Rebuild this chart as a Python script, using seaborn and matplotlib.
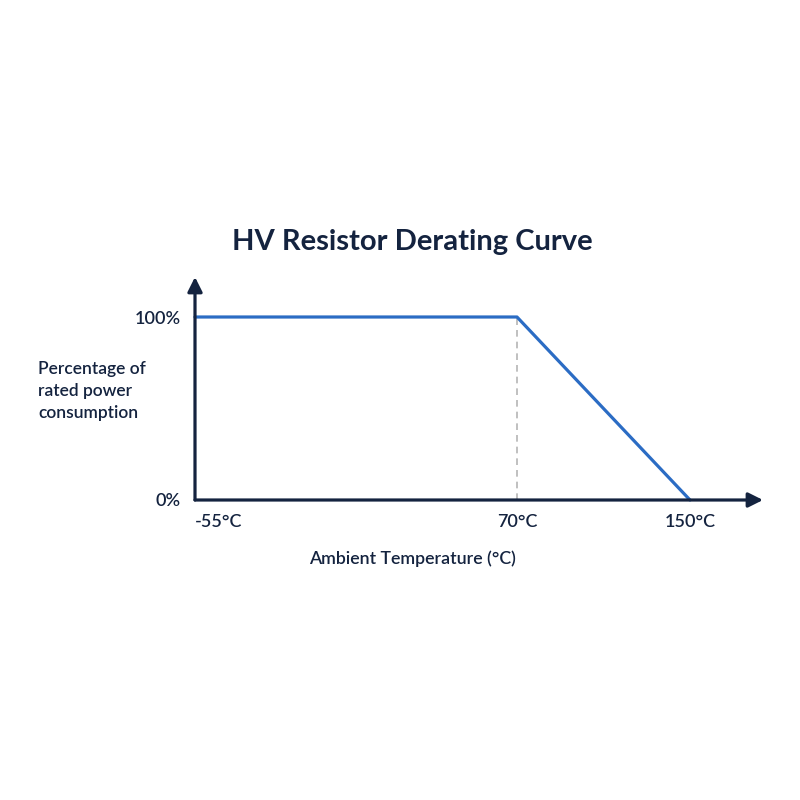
import numpy as np
import pandas as pd
import matplotlib
matplotlib.use("Agg")
import matplotlib.pyplot as plt
import seaborn as sns

# derating curve breakpoints
temps_c = [-55, 70, 150]
power_pct = [100, 100, 0]
x_tick_labels = ["-55°C", "70°C", "150°C"]
y_ticks = [0, 100]
y_tick_labels = ["0%", "100%"]
knee_temp = 70

NAVY = "#14233f"
BLUE = "#2b6cc4"

sns.set_style("white")
plt.rcParams["font.family"] = ["Lato", "DejaVu Sans"]

# the drawing is not to scale: use a piecewise-linear x scale
_src = [-55, 70, 150, 200]
_dst = [0, 322, 495, 603.1]


def fwd(x):
    return np.interp(x, _src, _dst)


def inv(x):
    return np.interp(x, _dst, _src)


df = pd.DataFrame({"temp": temps_c, "pct": power_pct})

fig = plt.figure(figsize=(8, 8), dpi=100)
ax = fig.add_axes([195 / 800, 1 - 500 / 800, 568 / 800, 223 / 800])
ax.set_xscale("function", functions=(fwd, inv))

sns.lineplot(data=df, x="temp", y="pct", ax=ax, color=BLUE, lw=2.3,
             clip_on=False, zorder=3)
ax.vlines(knee_temp, 0, 100, colors="#b5b5b5", linestyles=(0, (4, 3)), lw=1.2,
          zorder=2)

ax.set_xlim(-55, inv(568))
ax.set_ylim(0, 100 * 223 / 183)

for s in ax.spines.values():
    s.set_visible(False)

# axis arrows
for tip in [(1, 0), (0, 1)]:
    ax.annotate("", xy=tip, xytext=(0, 0), xycoords="axes fraction",
                arrowprops=dict(arrowstyle="-|>", color=NAVY, lw=2.3,
                                mutation_scale=22, shrinkA=0, shrinkB=0),
                annotation_clip=False)

ax.set_xticks(temps_c)
ax.set_xticklabels(x_tick_labels)
ax.xaxis.get_majorticklabels()[0].set_horizontalalignment("left")
ax.set_yticks(y_ticks)
ax.set_yticklabels(y_tick_labels)
ax.tick_params(axis="x", length=0, pad=10, labelsize=13, labelcolor=NAVY)
ax.tick_params(axis="y", length=0, pad=10, labelsize=13, labelcolor=NAVY)
for lbl in ax.get_xticklabels() + ax.get_yticklabels():
    lbl.set_fontweight("semibold")
ax.set_xlabel("")
ax.set_ylabel("")

fig.text(0.515, 1 - 242 / 800, "HV Resistor Derating Curve", ha="center",
         va="center", fontsize=21, fontweight="bold", color=NAVY)
fig.text(38 / 800, 1 - 391 / 800, "Percentage of\nrated power\nconsumption",
         ha="left", va="center", fontsize=12.5, color=NAVY, linespacing=1.45,
         fontweight="semibold")
fig.text(412 / 800, 1 - 559 / 800, "Ambient Temperature (°C)", ha="center",
         va="center", fontsize=12.8, color=NAVY, fontweight="semibold")

fig.savefig("out.png", dpi=100, facecolor="white")
